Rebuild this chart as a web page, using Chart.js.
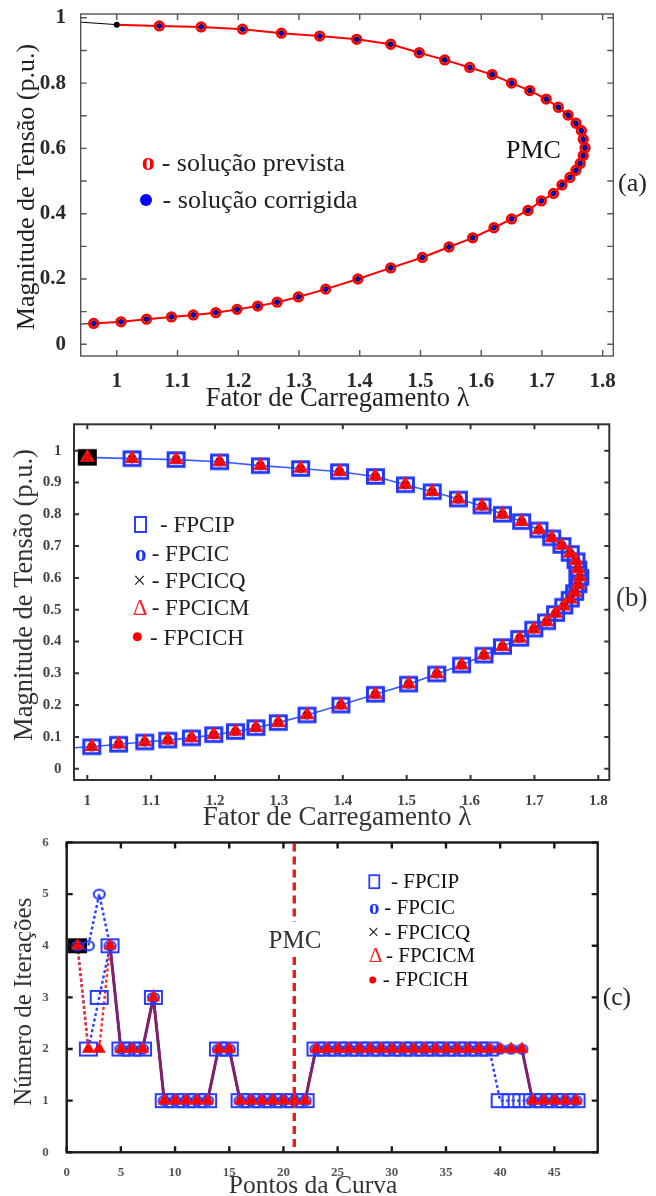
<!DOCTYPE html>
<html><head><meta charset="utf-8">
<script src="https://cdn.jsdelivr.net/npm/chart.js@4.4.1/dist/chart.umd.min.js"></script>
<style>
html,body{margin:0;padding:0;background:#fff;}
body{width:656px;height:1196px;position:relative;overflow:hidden;}
canvas{position:absolute;left:0;}
</style></head><body>
<canvas id="ca" width="656" height="415" style="top:0px;width:656px;height:415px"></canvas>
<canvas id="cb" width="656" height="417" style="top:415px;width:656px;height:417px"></canvas>
<canvas id="cc" width="656" height="364" style="top:832px;width:656px;height:364px"></canvas>
<script>
// ---------------- DATA ----------------
// Curva PV: fator de carregamento (lambda) e magnitude de tensão (p.u.)
const lambdaPts = [1.000, 1.070, 1.139, 1.207, 1.271, 1.334, 1.395, 1.451, 1.498, 1.540,
                   1.581, 1.618, 1.650, 1.680, 1.707, 1.727, 1.743, 1.756, 1.765, 1.768,
                   1.771, 1.768, 1.763, 1.756, 1.746, 1.733, 1.719, 1.699, 1.677, 1.650,
                   1.621, 1.586, 1.547, 1.503, 1.451, 1.397, 1.344, 1.299, 1.264, 1.232,
                   1.198, 1.163, 1.126, 1.090, 1.049, 1.007, 0.962];
const voltPts   = [0.979, 0.975, 0.972, 0.965, 0.953, 0.944, 0.934, 0.919, 0.893, 0.871,
                   0.848, 0.826, 0.800, 0.777, 0.751, 0.726, 0.702, 0.677, 0.654, 0.628,
                   0.602, 0.578, 0.554, 0.533, 0.511, 0.488, 0.462, 0.439, 0.410, 0.384,
                   0.357, 0.326, 0.298, 0.266, 0.234, 0.200, 0.169, 0.145, 0.129, 0.117,
                   0.107, 0.097, 0.090, 0.084, 0.077, 0.069, 0.064];
// trechos da curva que saem do eixo (a)
const lambdaHead = [0.900, 1.000];
const voltHead   = [0.992, 0.979];
const lambdaTail = [0.962, 0.900];
const voltTail   = [0.064, 0.058];

const xTicksAB  = [1, 1.1, 1.2, 1.3, 1.4, 1.5, 1.6, 1.7, 1.8];
const yMinorA   = [0, 0.1, 0.2, 0.3, 0.4, 0.5, 0.6, 0.7, 0.8, 0.9, 1];
const yLabelsA  = [0, 0.2, 0.4, 0.6, 0.8, 1];
const yTicksB   = [0, 0.1, 0.2, 0.3, 0.4, 0.5, 0.6, 0.7, 0.8, 0.9, 1];

// (c) Número de iterações por ponto da curva
const pontos   = [1,2,3,4,5,6,7,8,9,10,11,12,13,14,15,16,17,18,19,20,21,22,23,24,25,26,27,28,29,30,
                  31,32,33,34,35,36,37,38,39,40,41,42,43,44,45,46,47];
const itFPCIP  = [4,2,3,4,2,2,2,3,1,1,1,1,1,2,2,1,1,1,1,1,1,1,2,2,2,2,2,2,2,2,
                  2,2,2,2,2,2,2,2,2,1,1,1,1,1,1,1,1];
const itFPCIC  = [4,4,5,4,2,2,2,3,1,1,1,1,1,2,2,1,1,1,1,1,1,1,2,2,2,2,2,2,2,2,
                  2,2,2,2,2,2,2,2,2,2,2,2,1,1,1,1,1];
const itFPCICQ = [4,2,2,4,2,2,2,3,1,1,1,1,1,2,2,1,1,1,1,1,1,1,2,2,2,2,2,2,2,2,
                  2,2,2,2,2,2,2,2,2,2,2,2,1,1,1,1,1];
const itFPCICM = [4,2,2,4,2,2,2,3,1,1,1,1,1,2,2,1,1,1,1,1,1,1,2,2,2,2,2,2,2,2,
                  2,2,2,2,2,2,2,2,2,2,2,2,1,1,1,1,1];
const itFPCICH = [4,2,2,4,2,2,2,3,1,1,1,1,1,2,2,1,1,1,1,1,1,1,2,2,2,2,2,2,2,2,
                  2,2,2,2,2,2,2,2,2,2,2,2,1,1,1,1,1];
const xTicksC  = [0, 5, 10, 15, 20, 25, 30, 35, 40, 45];
const yTicksC  = [0, 1, 2, 3, 4, 5, 6];
const pmcPoint = 21;

// ---------------- HELPERS ----------------
const SERIF = "'Liberation Serif','Times New Roman',serif";
const pts = (xs, ys) => xs.map((x, i) => ({x: x, y: ys[i]}));
const fmt = v => String(Math.round(v * 10) / 10);

function rectImg(w, h, lw, stroke, fill) {
  const c = document.createElement('canvas');
  c.width = Math.ceil(w + lw + 2); c.height = Math.ceil(h + lw + 2);
  const g = c.getContext('2d');
  const x0 = (c.width - w) / 2, y0 = (c.height - h) / 2;
  if (fill) { g.fillStyle = fill; g.fillRect(x0, y0, w, h); }
  g.strokeStyle = stroke; g.lineWidth = lw; g.strokeRect(x0, y0, w, h);
  return c;
}
function ellipseImg(rx, ry, lw, stroke) {
  const c = document.createElement('canvas');
  c.width = Math.ceil(2 * rx + lw + 2); c.height = Math.ceil(2 * ry + lw + 2);
  const g = c.getContext('2d');
  g.strokeStyle = stroke; g.lineWidth = lw;
  g.beginPath(); g.ellipse(c.width / 2, c.height / 2, rx, ry, 0, 0, Math.PI * 2); g.stroke();
  return c;
}

function axis(min, max, tickVals, o) {
  return {
    type: 'linear', min: min, max: max,
    afterBuildTicks: s => { s.ticks = tickVals.map(v => ({value: v})); },
    afterFit: s => {
      if (o.w !== undefined) s.width = o.w;
      if (o.h !== undefined) s.height = o.h;
      s.paddingLeft = 0; s.paddingRight = 0; s.paddingTop = 0; s.paddingBottom = 0;
    },
    grid: {display: false}, border: {display: false},
    ticks: {autoSkip: false, maxRotation: 0, minRotation: 0, padding: o.pad, color: o.color,
            font: {family: SERIF, size: o.size, weight: 'bold'}, callback: v => fmt(v)}
  };
}

const framePlugin = {
  id: 'frame',
  afterDatasetsDraw(chart, args, o) {
    const {ctx, chartArea: a} = chart;
    const x = chart.scales.x, y = chart.scales.y;
    ctx.save();
    // PMC dashed line (chart c)
    if (o.pmc !== undefined) {
      const px = x.getPixelForValue(o.pmc);
      ctx.strokeStyle = '#e61e1e'; ctx.lineWidth = 3.4; ctx.setLineDash([8, 5]);
      ctx.beginPath();
      ctx.moveTo(px, a.top + 1); ctx.lineTo(px, o.gap[0]);
      ctx.moveTo(px, o.gap[1]); ctx.lineTo(px, a.bottom);
      ctx.stroke();
      ctx.setLineDash([]);
    }
    ctx.strokeStyle = o.color; ctx.lineWidth = o.width;
    ctx.beginPath();
    for (const v of o.xTicks) {
      const px = x.getPixelForValue(v);
      ctx.moveTo(px, a.bottom); ctx.lineTo(px, a.bottom - o.len);
      ctx.moveTo(px, a.top); ctx.lineTo(px, a.top + o.len);
    }
    for (const v of o.yTicks) {
      const py = y.getPixelForValue(v);
      ctx.moveTo(a.left, py); ctx.lineTo(a.left + o.len, py);
      ctx.moveTo(a.right, py); ctx.lineTo(a.right - o.len, py);
    }
    ctx.stroke();
    ctx.strokeRect(a.left, a.top, a.right - a.left, a.bottom - a.top);
    ctx.restore();
  }
};

const notesPlugin = {
  id: 'notes',
  afterDraw(chart, args, o) {
    const ctx = chart.ctx;
    const top = o.top || 0;
    for (const it of (o.items || [])) {
      ctx.save();
      ctx.font = (it.bold ? 'bold ' : '') + it.size + 'px ' + SERIF;
      ctx.fillStyle = it.color || '#222';
      ctx.textAlign = it.align || 'left';
      ctx.textBaseline = it.base || 'alphabetic';
      ctx.translate(it.x, it.y - top);
      if (it.rot) ctx.rotate(it.rot * Math.PI / 180);
      ctx.fillText(it.t, 0, 0);
      ctx.restore();
    }
    for (const s of (o.shapes || [])) {
      ctx.save();
      if (s.type === 'dot') {
        ctx.fillStyle = s.color;
        ctx.beginPath(); ctx.arc(s.x, s.y - top, s.r, 0, Math.PI * 2); ctx.fill();
      } else if (s.type === 'rect') {
        ctx.strokeStyle = s.color; ctx.lineWidth = s.lw;
        ctx.strokeRect(s.x - s.w / 2, s.y - top - s.h / 2, s.w, s.h);
      }
      ctx.restore();
    }
  }
};

Chart.defaults.font.family = SERIF;
const common = {
  responsive: false, animation: false, events: [],
  elements: {line: {tension: 0}},
};

// ---------------- (a) ----------------
(function () {
  const T = 0, H = 415, L = 80.7, R = 613.3, TOP = 14, BOT = 356;
  new Chart(document.getElementById('ca'), {
    type: 'line',
    data: {datasets: [
      {data: pts(lambdaHead, voltHead), borderColor: '#000', borderWidth: 1, pointRadius: 0, fill: false, order: 20},
      {data: pts(lambdaTail, voltTail), borderColor: '#000', borderWidth: 1, pointRadius: 0, fill: false, order: 20},
      {data: pts(lambdaPts, voltPts), borderColor: '#ff0000', borderWidth: 2, pointRadius: 0, fill: false, order: 10},
      {data: pts(lambdaPts, voltPts), showLine: false, pointStyle: 'circle',
       pointRadius: c => c.dataIndex === 0 ? 0 : 4.3, pointBorderWidth: 2.7,
       pointBorderColor: '#ff0000', pointBackgroundColor: 'rgba(0,0,0,0)', order: 3},
      {data: pts(lambdaPts, voltPts), showLine: false, pointStyle: 'circle',
       pointRadius: c => c.dataIndex === 0 ? 0 : 2.4, pointBorderWidth: 1,
       pointBorderColor: '#000', pointBackgroundColor: '#0000ff', order: 2},
      {data: pts(lambdaPts, voltPts), showLine: false, pointStyle: 'circle',
       pointRadius: c => c.dataIndex === 0 ? 3 : 0, pointBorderWidth: 0,
       pointBackgroundColor: '#000', order: 1}
    ]},
    options: Object.assign({}, common, {
      layout: {padding: {left: 0, top: TOP - T, right: 656 - R, bottom: 0}},
      scales: {
        x: axis(0.94059, 1.8175, xTicksAB, {h: H - BOT, pad: 4.7, color: '#2a2a2a', size: 21}),
        y: axis(-0.0358, 1.0116, yLabelsA, {w: L, pad: 6.7, color: '#2a2a2a', size: 21})
      },
      plugins: {
        legend: {display: false}, tooltip: {enabled: false},
        frame: {color: '#555', width: 1.4, len: 6, xTicks: xTicksAB, yTicks: yMinorA},
        notes: {top: T, items: [
          {t: 'Magnitude de Tensão (p.u.)', x: 27, y: 187, size: 26, rot: -90, align: 'center', base: 'middle'},
          {t: 'Fator de Carregamento λ', x: 337.6, y: 406, size: 26.5, align: 'center'},
          {t: 'o', x: 141.7, y: 170, size: 26, bold: true, color: '#ff0000'},
          {t: '- solução prevista', x: 161.7, y: 171, size: 26},
          {t: '- solução corrigida', x: 162.6, y: 208, size: 26},
          {t: 'PMC', x: 506, y: 158, size: 26, color: '#111'},
          {t: '(a)', x: 618, y: 191, size: 26}
        ], shapes: [{type: 'dot', x: 146, y: 200, r: 6, color: '#0000ff'}]}
      }
    }),
    plugins: [framePlugin, notesPlugin]
  });
})();

// ---------------- (b) ----------------
(function () {
  const T = 415, H = 417, L = 74, R = 609.3, TOP = 424.3, BOT = 780;
  const sqBlue = rectImg(16, 13.5, 3, '#2038ff', null);
  const sqBlack = rectImg(16, 13.5, 3, '#000', '#000');
  new Chart(document.getElementById('cb'), {
    type: 'line',
    data: {datasets: [
      {data: pts(lambdaPts, voltPts), borderColor: '#3b5bff', borderWidth: 1.6, pointRadius: 0, fill: false, order: 10},
      {data: pts(lambdaPts, voltPts), showLine: false, pointRadius: 6,
       pointStyle: c => c.dataIndex === 0 ? sqBlack : sqBlue, order: 5},
      {data: pts(lambdaPts, voltPts), showLine: false, pointStyle: 'circle', pointRadius: 4,
       pointBorderWidth: 1.5, pointBorderColor: '#1530ff', pointBackgroundColor: 'rgba(0,0,0,0)', order: 4},
      {data: pts(lambdaPts, voltPts), showLine: false, pointStyle: 'triangle', pointRadius: 7.2,
       pointBorderWidth: 1.5, pointBorderColor: '#ff1010', pointBackgroundColor: '#f01818', order: 3},
      {data: pts(lambdaPts, voltPts), showLine: false, pointStyle: 'crossRot', pointRadius: 4,
       pointBorderWidth: 1.2, pointBorderColor: '#111', order: 2},
      {data: pts(lambdaPts, voltPts), showLine: false, pointStyle: 'circle', pointRadius: 3,
       pointBorderWidth: 0, pointBackgroundColor: '#ff0000', order: 1}
    ]},
    options: Object.assign({}, common, {
      layout: {padding: {left: 0, top: TOP - T, right: 656 - R, bottom: 0}},
      scales: {
        x: axis(0.97918, 1.81722, xTicksAB, {h: T + H - BOT, pad: 4, color: '#444', size: 15}),
        y: axis(-0.0355, 1.0830, yTicksB, {w: L, pad: 4.5, color: '#444', size: 15})
      },
      plugins: {
        legend: {display: false}, tooltip: {enabled: false},
        frame: {color: '#333', width: 2, len: 5, xTicks: xTicksAB, yTicks: yTicksB},
        notes: {top: T, items: [
          {t: 'Magnitude de Tensão (p.u.)', x: 25, y: 595, size: 26.5, rot: -90, align: 'center', base: 'middle', color: '#333'},
          {t: 'Fator de Carregamento λ', x: 337, y: 825, size: 27, align: 'center', color: '#333'},
          {t: '- FPCIP', x: 160, y: 531.7, size: 23},
          {t: 'o', x: 135, y: 560.7, size: 23, bold: true, color: '#1a34ff'},
          {t: '- FPCIC', x: 151.7, y: 560.7, size: 23},
          {t: '×', x: 133, y: 588.3, size: 23, color: '#111'},
          {t: '- FPCICQ', x: 151.7, y: 588.3, size: 23},
          {t: 'Δ', x: 132.7, y: 615, size: 23, color: '#ff2020'},
          {t: '- FPCICM', x: 151.7, y: 615, size: 23},
          {t: '- FPCICH', x: 150, y: 645, size: 23},
          {t: '(b)', x: 616, y: 606, size: 27, color: '#333'}
        ], shapes: [
          {type: 'rect', x: 140.5, y: 524.5, w: 11, h: 15, lw: 2, color: '#2a40ff'},
          {type: 'dot', x: 137.3, y: 636.7, r: 4.5, color: '#ff0000'}
        ]}
      }
    }),
    plugins: [framePlugin, notesPlugin]
  });
})();

// ---------------- (c) ----------------
(function () {
  const T = 832, H = 364, L = 66.7, R = 597.7, TOP = 842.5, BOT = 1152.3;
  const sqBlue = rectImg(17, 13, 2, '#2a3cff', null);
  const sqBlack = rectImg(17, 13, 2, '#000', '#000');
  const circ = ellipseImg(5.5, 4.5, 2, '#1d35ff');
  const dotted = [3, 2.5];
  new Chart(document.getElementById('cc'), {
    type: 'line',
    data: {datasets: [
      {data: pts(pontos, itFPCIC), borderColor: '#2a40ff', borderWidth: 2.4, borderDash: dotted, pointRadius: 0, fill: false, order: 14},
      {data: pts(pontos, itFPCIP), borderColor: '#2a40ff', borderWidth: 2.4, borderDash: dotted, pointRadius: 0, fill: false, order: 13},
      {data: pts(pontos, itFPCICM), borderColor: '#ff2a2a', borderWidth: 2.4, borderDash: dotted, pointRadius: 0, fill: false, order: 12},
      {data: pts(pontos, itFPCICH), borderWidth: 3, pointRadius: 0, fill: false, order: 11,
       borderColor: '#7e226c',
       segment: {borderColor: c => c.p0DataIndex < 3 ? 'rgba(0,0,0,0)' : '#7e226c'}},
      {data: pts(pontos, itFPCIP), showLine: false, pointRadius: 6,
       pointStyle: c => c.dataIndex === 0 ? sqBlack : sqBlue, order: 5},
      {data: pts(pontos, itFPCIC), showLine: false, pointRadius: 5, pointStyle: circ, order: 4},
      {data: pts(pontos, itFPCICM), showLine: false, pointStyle: 'triangle', pointRadius: 6.2,
       pointBorderWidth: 1.4, pointBorderColor: '#ff1010', pointBackgroundColor: '#f21a1a', order: 3},
      {data: pts(pontos, itFPCICQ), showLine: false, pointStyle: 'crossRot', pointRadius: 3.5,
       pointBorderWidth: 1.2, pointBorderColor: '#111', order: 2},
      {data: pts(pontos, itFPCICH), showLine: false, pointStyle: 'circle', pointRadius: 3.2,
       pointBorderWidth: 0, pointBackgroundColor: '#ff0000', order: 1}
    ]},
    options: Object.assign({}, common, {
      layout: {padding: {left: 0, top: TOP - T, right: 656 - R, bottom: 0}},
      scales: {
        x: axis(0, 49, xTicksC, {h: T + H - BOT, pad: 4.2, color: '#555', size: 13}),
        y: axis(0, 6, yTicksC, {w: L, pad: 10, color: '#555', size: 13})
      },
      plugins: {
        legend: {display: false}, tooltip: {enabled: false},
        frame: {color: '#1a1a1a', width: 2.4, len: 6, xTicks: xTicksC, yTicks: yTicksC,
                pmc: pmcPoint, gap: [922 - T, 957 - T]},
        notes: {top: T, items: [
          {t: 'Número de Iterações', x: 24, y: 1001.7, size: 25, rot: -90, align: 'center', base: 'middle', color: '#333'},
          {t: 'Pontos da Curva', x: 313, y: 1193, size: 25.5, align: 'center', color: '#333'},
          {t: 'PMC', x: 295, y: 948, size: 25, align: 'center', color: '#333'},
          {t: '- FPCIP', x: 391, y: 888.3, size: 21, color: '#111'},
          {t: 'o', x: 369, y: 914, size: 21, bold: true, color: '#1a34ff'},
          {t: '- FPCIC', x: 384.3, y: 914, size: 21, color: '#111'},
          {t: '×', x: 367.5, y: 939, size: 21, color: '#111'},
          {t: '- FPCICQ', x: 384.3, y: 939, size: 21, color: '#111'},
          {t: 'Δ', x: 369, y: 961.7, size: 21, color: '#ff2020'},
          {t: '- FPCICM', x: 386, y: 961.7, size: 21, color: '#111'},
          {t: '- FPCICH', x: 382.7, y: 985.7, size: 21, color: '#111'},
          {t: '(c)', x: 602.7, y: 1005, size: 25.5, color: '#222'}
        ], shapes: [
          {type: 'rect', x: 374.3, y: 881.7, w: 10, h: 13, lw: 1.8, color: '#2a40ff'},
          {type: 'dot', x: 372.7, y: 980, r: 3.5, color: '#ff0000'}
        ]}
      }
    }),
    plugins: [framePlugin, notesPlugin]
  });
})();
</script>
</body></html>
